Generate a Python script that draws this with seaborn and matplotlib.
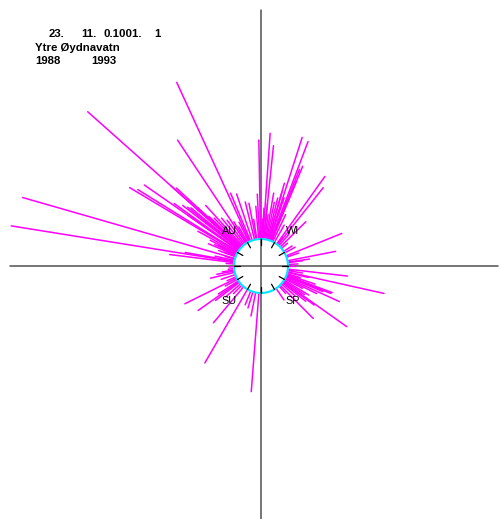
import numpy as np
import pandas as pd
import matplotlib
matplotlib.use('Agg')
import matplotlib.pyplot as plt
import seaborn as sns

# flood events: day of year (angle round the circle) and flood size (line length)
days = [340, 316, 331, 290, 283, 305, 309, 306, 316, 317, 313, 317, 316, 309, 301, 297,
        281, 284, 342, 346, 351, 354, 360, 364, 295,
        4, 6, 18, 21, 23, 22, 23, 16, 16, 10, 6, 3, 36, 39, 46, 69, 80, 83, 72, 58, 38, 14,
        98, 104, 112, 113, 116, 127, 137, 128, 123, 148, 100, 108,
        260, 247, 238, 223, 213, 187, 200, 194, 263, 244,
        310, 312, 314, 318, 320, 322, 325, 328, 333, 300, 303, 306, 289, 278, 272, 286,
        294, 299, 335, 338, 356, 362,
        2, 8, 12, 19, 26, 30, 42, 50, 62, 88, 84, 92,
        110, 114, 118, 120, 125, 130, 133, 140, 105, 101,
        205, 228, 232, 236, 240, 250, 255, 265, 268]
sizes = [175, 205, 124, 221, 226, 126, 115, 118, 94, 88, 67, 59, 58, 62, 30, 30,
         65, 50, 52, 49, 39, 37, 33, 99, 12,
         106, 94, 108, 106, 81, 77, 64, 59, 50, 47, 36, 31, 83, 73, 36, 60, 49, 22, 13, 10, 9, 43,
         60, 99, 49, 48, 59, 78, 47, 39, 29, 14, 6, 14,
         25, 58, 50, 47, 85, 99, 17, 24, 18, 14,
         80, 72, 64, 45, 40, 55, 35, 30, 25, 20, 45, 15, 10, 8, 5, 20,
         18, 24, 18, 22, 20, 45,
         20, 25, 38, 45, 30, 20, 15, 8, 12, 10, 15, 8,
         30, 40, 35, 20, 25, 30, 18, 10, 22, 15,
         15, 12, 20, 30, 24, 10, 15, 12, 6]

seasons = ['WI', 'SP', 'SU', 'AU']
season_mid = [45, 135, 225, 315]
header = ['23.', '11.', '0.1001.', '1']
station = 'Ytre Øydnavatn'
years = ['1988', '1993']

R0 = 27  # radius of the inner circle

# build segments
rows = []
for i, (d, s) in enumerate(zip(days, sizes)):
    th = 2 * np.pi * d / 365.0
    for r in (R0, R0 + s):
        rows.append({'id': i, 'x': r * np.sin(th), 'y': r * np.cos(th)})
seg = pd.DataFrame(rows)

sns.set_style('white')
plt.rcParams['font.family'] = ['Liberation Sans', 'DejaVu Sans']
plt.rcParams['text.color'] = 'black'

fig = plt.figure(figsize=(5.0, 5.19), dpi=100)
ax = fig.add_axes([0, 0, 1, 1])

# cross
ax.plot([-251, 237], [0, 0], color='#505050', lw=1.1, zorder=1)
ax.plot([0, 0], [256, -253], color='#505050', lw=1.1, zorder=1)

sns.lineplot(data=seg, x='x', y='y', units='id', estimator=None, sort=False,
             color='#ff00ff', lw=1.1, ax=ax, zorder=2)

# inner circle
t = np.linspace(0, 2 * np.pi, 200)
ax.fill(R0 * np.sin(t), R0 * np.cos(t), color='white', zorder=3)
ax.plot(R0 * np.sin(t), R0 * np.cos(t), color='#00e5ff', lw=1.5, zorder=4)
ax.plot([0, 0], [R0, -R0], color='#505050', lw=1.1, zorder=4)
ax.plot([-R0, R0], [0, 0], color='#505050', lw=1.1, zorder=4)

# month ticks
for k in range(12):
    a = 2 * np.pi * k / 12
    ax.plot([21 * np.sin(a), R0 * np.sin(a)], [21 * np.cos(a), R0 * np.cos(a)],
            color='black', lw=0.9, zorder=5)

for lab, a in zip(seasons, season_mid):
    ar = np.deg2rad(a)
    ax.text(45 * np.sin(ar), 49 * np.cos(ar), lab, ha='center', va='center',
            fontsize=7.8, color='black', zorder=6)

# header text (pixel positions relative to centre)
hx = [49, 81, 104, 154]
for s, x in zip(header, hx):
    ax.text(x - 261, 266 - 37, s, fontsize=8.2, fontweight='bold', va='baseline', color='black')
ax.text(35 - 261, 266 - 51, station, fontsize=8.2, fontweight='bold', va='baseline', color='black')
ax.text(35 - 261, 266 - 64, years[0], fontsize=8.2, fontweight='bold', va='baseline', color='black')
ax.text(91 - 261, 266 - 64, years[1], fontsize=8.2, fontweight='bold', va='baseline', color='black')

ax.set_xlim(-261, 239)
ax.set_ylim(-253, 266)
ax.set_axis_off()
if ax.get_legend():
    ax.get_legend().remove()

fig.savefig('out.png', dpi=100)
